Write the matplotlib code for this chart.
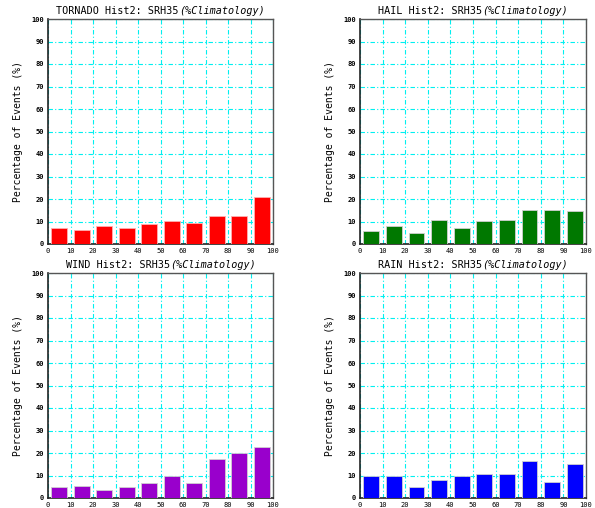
import matplotlib
matplotlib.use("Agg")
import matplotlib.pyplot as plt
import numpy as np

bins = [0, 10, 20, 30, 40, 50, 60, 70, 80, 90]
tornado = [7.2, 6.4, 7.8, 7.0, 8.7, 10.4, 9.5, 12.6, 12.6, 21.0]
hail = [5.9, 7.8, 4.9, 10.8, 7.2, 10.2, 10.8, 14.9, 14.9, 14.5]
wind = [4.7, 5.3, 3.4, 4.7, 6.7, 9.9, 6.7, 17.3, 20.1, 22.5]
rain = [9.6, 9.6, 4.7, 8.0, 9.9, 10.8, 10.8, 16.3, 7.1, 15.0]
names = ["TORNADO", "HAIL", "WIND", "RAIN"]
colors = ["#ff0000", "#007800", "#9900cc", "#0000ff"]
ticks = [0, 10, 20, 30, 40, 50, 60, 70, 80, 90, 100]

W, H = 595, 508
fig = plt.figure(figsize=(W / 100, H / 100), dpi=100)

# axes pixel boxes: (left, top, right, bottom)
boxes = [(48, 19, 273, 244), (360, 19, 586, 244),
         (48, 273, 273, 498), (360, 273, 586, 498)]
series = [tornado, hail, wind, rain]
mono = "DejaVu Sans Mono"

axes = []
for (l, t, r, b), vals, col, name in zip(boxes, series, colors, names):
    ax = fig.add_axes([l / W, 1 - b / H, (r - l) / W, (b - t) / H])
    ax.set_xlim(0, 100)
    ax.set_ylim(0, 100)
    ax.set_axisbelow(True)
    ax.grid(True, color="#00f0f0", linestyle=(0, (4, 2, 1, 2)), linewidth=0.8)
    centers = [x + 5 for x in bins]
    ax.bar(centers, vals, width=7, color=col,
           edgecolor="#ffb0b0" if col == "#ff0000" else "#d0d0d0",
           linewidth=0.6, zorder=3)
    ax.set_xticks(ticks)
    ax.set_yticks(ticks)
    ax.set_xticklabels([str(v) for v in ticks], family=mono, fontsize=5)
    ax.set_yticklabels([str(v) for v in ticks], family=mono, fontsize=5, fontweight="bold")
    ax.tick_params(length=0, pad=3)
    for sp in ["left", "bottom"]:
        ax.spines[sp].set_color("#222222")
        ax.spines[sp].set_linewidth(1.2)
    for sp in ["top", "right"]:
        ax.spines[sp].set_color("#555555")
        ax.spines[sp].set_linewidth(1.0)
    ax.set_ylabel("Percentage of Events (%)", family=mono, fontsize=7, labelpad=6)
    axes.append(ax)

fig.canvas.draw()
renderer = fig.canvas.get_renderer()
for ax, name in zip(axes, names):
    p1 = name + " Hist2: SRH35"
    p2 = "(%Climatology)"
    t1 = ax.text(0, 1.015, p1, transform=ax.transAxes, family=mono, fontsize=7.3,
                 ha="left", va="bottom")
    t2 = ax.text(0, 1.015, p2, transform=ax.transAxes, family=mono, fontsize=7.3,
                 style="italic", ha="left", va="bottom")
    w1 = t1.get_window_extent(renderer).width
    w2 = t2.get_window_extent(renderer).width
    axw = ax.get_window_extent(renderer).width
    start = (axw - (w1 + w2)) / 2
    t1.set_x(start / axw)
    t2.set_x((start + w1) / axw)

fig.savefig("out.png", dpi=100)
